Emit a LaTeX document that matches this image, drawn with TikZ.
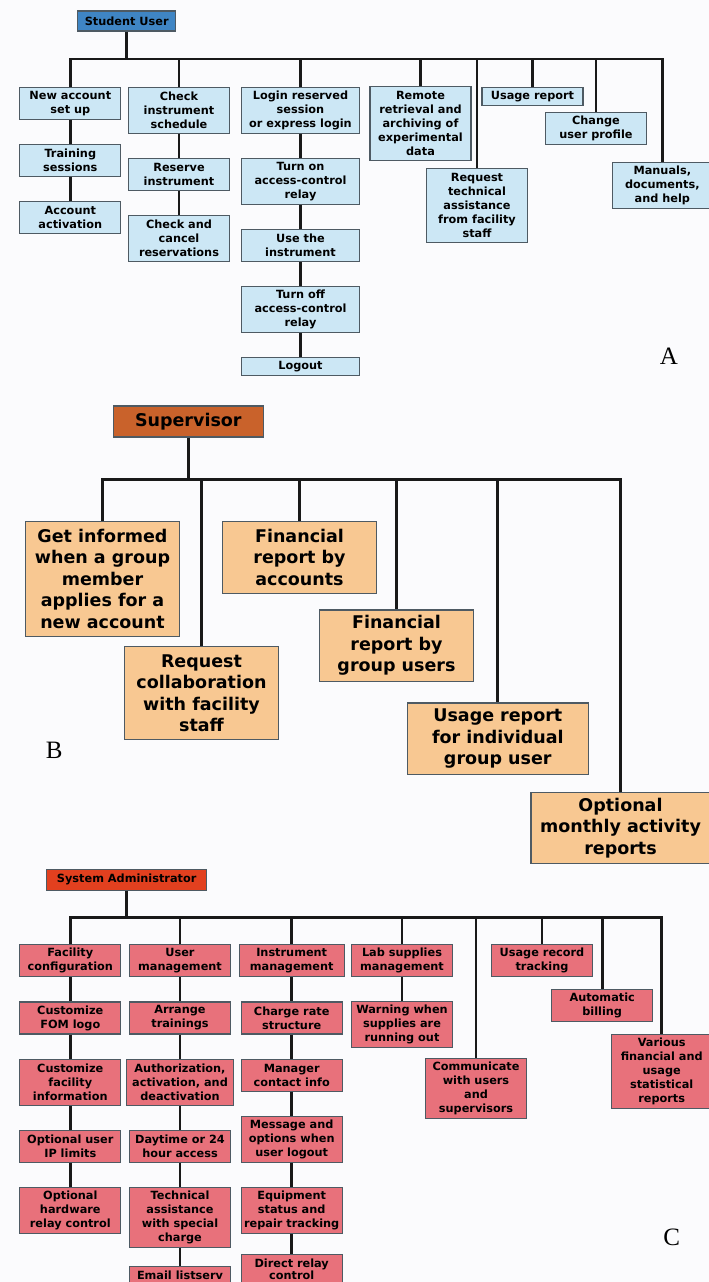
\documentclass[tikz,border=0pt]{standalone}
\usepackage{fontspec}
\setmainfont{DejaVu Sans}
\newfontfamily\letterfont{Liberation Serif}
\usepackage{tikz}
\usetikzlibrary{positioning}
\definecolor{pagebg}{HTML}{FBFBFD}
\definecolor{edge}{HTML}{4E5A63}
\definecolor{ahead}{HTML}{3F85C4}
\definecolor{afill}{HTML}{CCE7F5}
\definecolor{bhead}{HTML}{C9622B}
\definecolor{bfill}{HTML}{F8C892}
\definecolor{chead}{HTML}{E2401F}
\definecolor{cfill}{HTML}{E8717B}

\begin{document}
\begin{tikzpicture}[x=1pt, y=-1pt,
  abox/.style={rectangle, draw=edge, line width=1.1pt, fill=afill, align=center,
               font=\fontsize{11.3}{14}\selectfont\bfseries, inner sep=1pt,
               minimum width=101pt, minimum height={#1*14pt+4pt}},
  abox/.default=2,
  bbox/.style={rectangle, draw=edge, line width=1.2pt, fill=bfill, align=center,
               font=\fontsize{17.5}{21.5}\selectfont\bfseries, inner sep=1pt,
               minimum width=154pt, minimum height={#1*21.5pt+7pt}},
  bbox/.default=3,
  cbox/.style={rectangle, draw=edge, line width=1.1pt, fill=cfill, align=center,
               font=\fontsize{11.3}{14}\selectfont\bfseries, inner sep=1pt,
               minimum width=101pt, minimum height={#1*14pt+4pt}},
  cbox/.default=2,
  link/.style={line width=2.6pt, draw=black!90},
  tag/.style={font=\letterfont\fontsize{25}{25}\selectfont},
  node distance=24pt
]
  \path[use as bounding box, fill=pagebg] (0,0) rectangle (709,1282);

  % A
  \node[abox=1, fill=ahead, minimum width=98pt, minimum height=20pt] (stu) at (126.7,21) {Student User};
  \node[abox, anchor=north] (newacc) at (70.3,86.7) {New account\\set up};
  \node[abox, below=of newacc] (train) {Training\\sessions};
  \node[abox, below=of train] (activ) {Account\\activation};
  \node[abox=3, anchor=north] (chksch) at (179,86.7) {Check\\instrument\\schedule};
  \node[abox, below=of chksch] (reserve) {Reserve\\instrument};
  \node[abox=3, below=of reserve] (cancel) {Check and\\cancel\\reservations};
  \node[abox=3, anchor=north, minimum width=118.6pt] (login) at (300.5,86.7) {Login reserved\\session\\or express login};
  \node[abox=3, below=of login, minimum width=118.6pt] (relayon) {Turn on\\access-control\\relay};
  \node[abox, below=of relayon, minimum width=118.6pt] (useinst) {Use the\\instrument};
  \node[abox=3, below=of useinst, minimum width=118.6pt] (relayoff) {Turn off\\access-control\\relay};
  \node[abox=1, below=of relayoff, minimum width=118.6pt] (logout) {Logout};
  \node[abox=5, anchor=north] (remote) at (420.5,86) {Remote\\retrieval and\\archiving of\\experimental\\data};
  \node[abox=5, anchor=north] (reqtech) at (477,168.3) {Request\\technical\\assistance\\from facility\\staff};
  \node[abox=1, anchor=north] (usage) at (532.5,86.7) {Usage report};
  \node[abox, anchor=north] (chprof) at (596,111.7) {Change\\user profile};
  \node[abox=3, anchor=north, minimum width=100pt] (manuals) at (662.3,161.7) {Manuals,\\documents,\\and help};
  \node[tag] (labA) at (669,356.7) {A};

  \coordinate (busA) at (0,59);
  \draw[link] (stu.south) -- (stu.south |- busA);
  \draw[link] (newacc.north) |- (manuals.north |- busA) -- (manuals.north);
  \foreach \n in {chksch,login,remote,reqtech,usage,chprof}
    \draw[link] (\n.north |- busA) -- (\n.north);
  \foreach \a/\b in {newacc/train,train/activ,chksch/reserve,reserve/cancel,
                     login/relayon,relayon/useinst,useinst/relayoff,relayoff/logout}
    \draw[link] (\a) -- (\b);

  % B
  \node[bbox=1, fill=bhead, minimum width=150pt, minimum height=31pt] (sup) at (188.3,421.5) {Supervisor};
  \node[bbox=5, anchor=north] (getinf) at (102.5,521) {Get informed\\when a group\\member\\applies for a\\new account};
  \node[bbox=4, anchor=north] (reqcol) at (201.5,646) {Request\\collaboration\\with facility\\staff};
  \node[bbox, anchor=north] (finacc) at (299.5,521) {Financial\\report by\\accounts};
  \node[bbox, anchor=north] (fingrp) at (396.5,609.3) {Financial\\report by\\group users};
  \node[bbox, anchor=north, minimum width=181pt] (useind) at (497.8,702.3) {Usage report\\for individual\\group user};
  \node[bbox, anchor=north, minimum width=179pt] (monthly) at (620.5,791.7) {Optional\\monthly activity\\reports};
  \node[tag] (labB) at (54.3,750.7) {B};

  \coordinate (busB) at (0,479);
  \draw[link, line width=3pt] (sup.south) -- (sup.south |- busB);
  \draw[link, line width=3pt] (getinf.north) |- (monthly.north |- busB) -- (monthly.north);
  \foreach \n in {reqcol,finacc,fingrp,useind}
    \draw[link, line width=3pt] (\n.north |- busB) -- (\n.north);

  % C
  \node[cbox=1, fill=chead, minimum width=160pt, minimum height=20.7pt] (sysadm) at (126.7,879.7) {System Administrator};
  \node[cbox, anchor=north] (faccfg) at (70.3,944.3) {Facility\\configuration};
  \node[cbox, below=of faccfg] (fomlogo) {Customize\\FOM logo};
  \node[cbox=3, below=of fomlogo] (facinfo) {Customize\\facility\\information};
  \node[cbox, below=of facinfo] (iplim) {Optional user\\IP limits};
  \node[cbox=3, below=of iplim] (hwrelay) {Optional\\hardware\\relay control};
  \node[cbox, anchor=north] (usermg) at (180,944.3) {User\\management};
  \node[cbox, below=of usermg] (arrange) {Arrange\\trainings};
  \node[cbox=3, below=of arrange, minimum width=107pt] (authz) {Authorization,\\activation, and\\deactivation};
  \node[cbox, below=of authz] (daytime) {Daytime or 24\\hour access};
  \node[cbox=4, below=of daytime] (techast) {Technical\\assistance\\with special\\charge};
  \node[cbox=1, below=18pt of techast] (email) {Email listserv};
  \node[cbox, anchor=north, minimum width=105pt] (instmg) at (291.7,944.3) {Instrument\\management};
  \node[cbox, below=of instmg] (charge) {Charge rate\\structure};
  \node[cbox, below=of charge] (manager) {Manager\\contact info};
  \node[cbox=3, below=of manager] (message) {Message and\\options when\\user logout};
  \node[cbox=3, below=of message] (equip) {Equipment\\status and\\repair tracking};
  \node[cbox, below=20pt of equip, minimum height=30pt,
        font=\fontsize{11.3}{12}\selectfont\bfseries] (direct) {Direct relay\\control};
  \node[cbox, anchor=north] (labmg) at (402,944) {Lab supplies\\management};
  \node[cbox=3, below=of labmg] (warn) {Warning when\\supplies are\\running out};
  \node[cbox=4, anchor=north] (commun) at (476,1058.3) {Communicate\\with users\\and\\supervisors};
  \node[cbox, anchor=north] (userec) at (542,944.3) {Usage record\\tracking};
  \node[cbox, anchor=north] (billing) at (602.2,989.3) {Automatic\\billing};
  \node[cbox=5, anchor=north, minimum width=100pt] (various) at (661.7,1034.3) {Various\\financial and\\usage\\statistical\\reports};
  \node[tag] (labC) at (671.7,1237.7) {C};

  \coordinate (busC) at (0,917.3);
  \draw[link] (sysadm.south) -- (sysadm.south |- busC);
  \draw[link] (faccfg.north) |- (various.north |- busC) -- (various.north);
  \foreach \n in {usermg,instmg,labmg,commun,userec,billing}
    \draw[link] (\n.north |- busC) -- (\n.north);
  \foreach \a/\b in {faccfg/fomlogo,fomlogo/facinfo,facinfo/iplim,iplim/hwrelay,
                     usermg/arrange,arrange/authz,authz/daytime,daytime/techast,techast/email,
                     instmg/charge,charge/manager,manager/message,message/equip,equip/direct,
                     labmg/warn}
    \draw[link] (\a) -- (\b);
\end{tikzpicture}
\end{document}
